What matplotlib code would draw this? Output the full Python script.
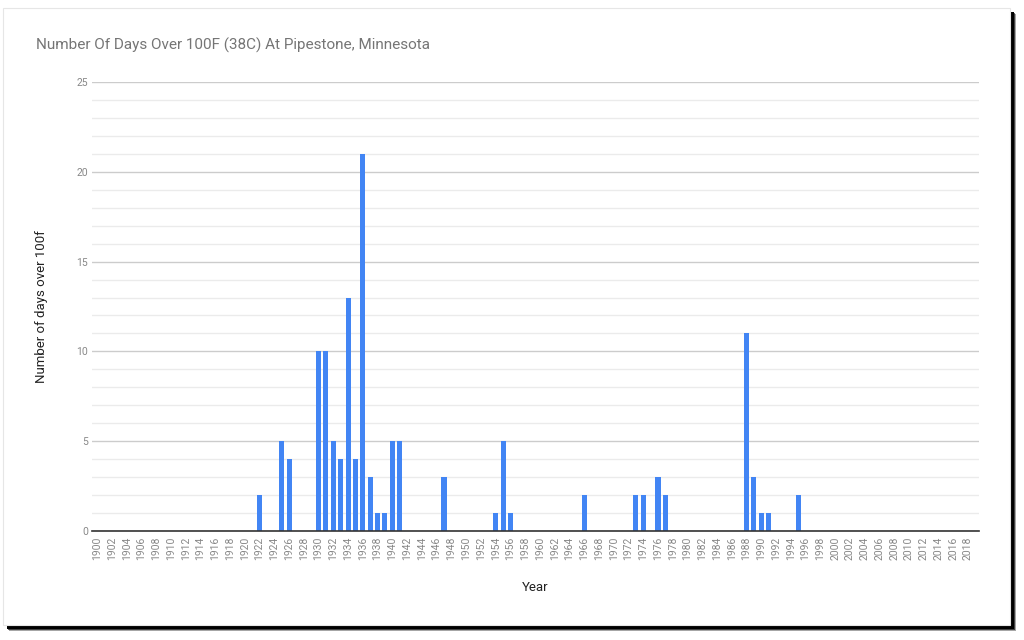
import matplotlib.pyplot as plt
import matplotlib.patches as mpatches
import numpy as np

# data
years = list(range(1900, 2019))
hot_years = [1922, 1925, 1926, 1930, 1931, 1932, 1933, 1934, 1935, 1936,
             1937, 1938, 1939, 1940, 1941, 1947, 1954, 1955, 1956, 1966,
             1973, 1974, 1976, 1977, 1988, 1989, 1990, 1991, 1995]
hot_days = [2, 5, 4, 10, 10, 5, 4, 13, 4, 21,
            3, 1, 1, 5, 5, 3, 1, 5, 1, 2,
            2, 2, 3, 2, 11, 3, 1, 1, 2]
tick_years = years[::2]

plt.rcParams['font.family'] = ['Roboto', 'DejaVu Sans']

W, H = 1024, 640
fig = plt.figure(figsize=(W / 100, H / 100), dpi=100)

# card with dark drop shadow
for off, a in [(6, 0.35), (5, 0.6), (4, 1.0)]:
    fig.patches.append(mpatches.Rectangle(
        ((3 + off) / W, 1 - (625 + off) / H), 1007 / W, 617 / H,
        transform=fig.transFigure, facecolor='black', edgecolor='none',
        alpha=a, zorder=-3))
fig.patches.append(mpatches.Rectangle(
    (3 / W, 1 - 625 / H), 1007 / W, 617 / H, transform=fig.transFigure,
    facecolor='white', edgecolor='#e6e6e6', linewidth=0.8, zorder=-2))

ax = fig.add_axes([92 / W, 1 - 531 / H, (979 - 92) / W, (531 - 82) / H])
ax.set_facecolor('none')

values = dict(zip(hot_years, hot_days))
heights = [values.get(y, 0) for y in years]
ax.bar(years, heights, width=0.68, color='#4285f4', zorder=3)

ax.set_xlim(1899.3, 2019.5)
ax.set_ylim(0, 25)
ax.set_yticks(range(0, 26, 5))
ax.set_yticks(range(0, 26), minor=True)
ax.set_xticks(tick_years)
ax.set_xticklabels([str(y) for y in tick_years], rotation=90,
                   fontsize=7.5, color='#888888')
ax.tick_params(axis='y', which='major', length=0, labelsize=7.5,
               labelcolor='#888888', pad=3)
ax.tick_params(axis='y', which='minor', length=0)
ax.tick_params(axis='x', length=0, pad=4)

ax.grid(axis='y', which='major', color='#cccccc', linewidth=1, zorder=0)
ax.grid(axis='y', which='minor', color='#ebebeb', linewidth=1, zorder=0)
for s in ['top', 'right', 'left']:
    ax.spines[s].set_visible(False)
ax.spines['bottom'].set_color('#333333')
ax.spines['bottom'].set_linewidth(1.2)
ax.spines['bottom'].set_zorder(4)

ax.set_ylabel('Number of days over 100f', fontsize=9.5, color='#222222',
              labelpad=20)
ax.set_xlabel('Year', fontsize=9.5, color='#222222', labelpad=15)

fig.text(36 / W, 1 - 45 / H, 'Number Of Days Over 100F (38C) At Pipestone, Minnesota',
         fontsize=11, color='#757575', va='center', ha='left')

fig.savefig('out.png', dpi=100)
